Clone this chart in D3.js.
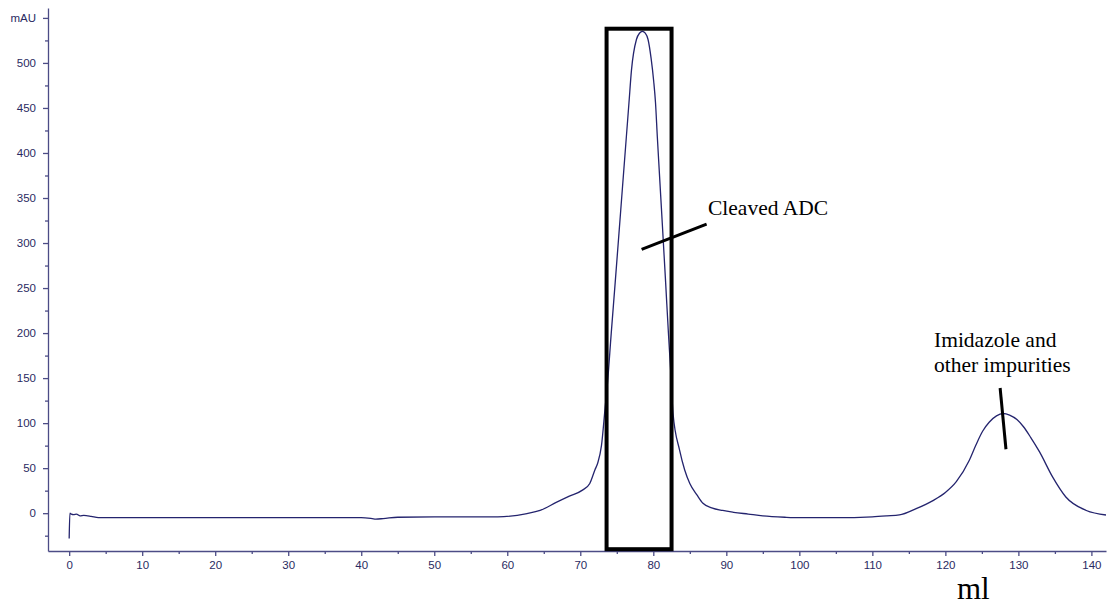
<!DOCTYPE html>
<html>
<head>
<meta charset="utf-8">
<script src="https://cdn.jsdelivr.net/npm/d3@7"></script>
<style>
  body { margin: 0; background: #fff; }
  svg { display: block; }
</style>
</head>
<body>
<svg width="1109" height="605"></svg>
<script>
// DATA (elution volume in ml, absorbance in mAU)
const volume = [0, 0.1, 0.3, 0.6, 1, 1.5, 2, 3, 4, 10, 20, 30, 40, 41.5, 42, 43, 45, 50, 55, 58.7, 62.7,
  64.5, 66.7, 68.5, 70.3, 71.3, 72, 72.4, 72.9, 73.4, 73.72, 74.24, 74.78, 75.3, 75.79, 76.31, 76.67,
  77.01, 77.69, 78.1, 78.51, 78.9, 79.28, 79.7, 80.05, 80.3, 80.55, 80.81, 81.2, 81.69, 82.07, 82.35, 82.7,
  83.6, 84.3, 85, 86, 86.8, 88, 89.5, 91, 93, 95, 98, 100, 105, 110, 112, 113.7, 116,
  118.3, 120, 121.5, 123.3, 124.2, 125.1, 126, 127, 127.86, 128.8, 129.8, 130.7, 131.7, 132.9, 134.7, 136.5, 139.3, 142];
const absorbance = [-28, 0, -1, -1.5, -1, -3, -2.5, -3.5, -5, -5, -5, -5, -5, -6, -6.5, -6, -4.5, -4, -4, -4, -0.5,
  3, 12, 19, 25.6, 33, 48, 56, 75, 117, 144, 200, 256, 311, 363, 418, 456,
  492, 526, 533, 535, 533, 526, 505, 480, 456, 418, 381, 326, 256, 200, 162, 111,
  70, 48, 33, 20, 11, 6, 3, 1, -1, -3, -4.5, -5, -5, -4, -3, -2, 5,
  14, 23, 35, 59, 76, 91, 101, 108, 110.7, 109, 104, 96, 84, 68, 40, 18, 3, -2];

const xTicks = [0, 10, 20, 30, 40, 50, 60, 70, 80, 90, 100, 110, 120, 130, 140];
const yTicks = [0, 50, 100, 150, 200, 250, 300, 350, 400, 450, 500];

// annotations
const boxRange = { x0: 73.6, x1: 82.5, y0: -40, y1: 538 };

const svg = d3.select("svg");

// SCALE
const x = d3.scaleLinear().domain([-2.9, 142]).range([48, 1106]);
const y = d3.scaleLinear().domain([-42, 561]).range([551, 8]);

const axisColor = "#4c4c86";
const labelColor = "#2a2a62";

// AXES
const xAxis = svg.append("g").attr("transform", `translate(0,${y(-42)})`);
xAxis.call(d3.axisBottom(x).tickValues(xTicks).tickSize(5).tickSizeOuter(0).tickFormat(d3.format("d")));
svg.append("g").attr("transform", `translate(0,${y(-42)})`)
  .call(d3.axisBottom(x).tickValues(d3.range(5, 142, 10)).tickSize(3).tickSizeOuter(0).tickFormat(""))
  .select(".domain").remove();

const yAxis = svg.append("g").attr("transform", `translate(${x(-2.9)},0)`);
yAxis.call(d3.axisLeft(y).tickValues(yTicks.concat([550])).tickSize(5).tickSizeOuter(0)
  .tickFormat(d => d === 550 ? "mAU" : d));
svg.append("g").attr("transform", `translate(${x(-2.9)},0)`)
  .call(d3.axisLeft(y).tickValues(d3.range(-25, 560, 50)).tickSize(3).tickSizeOuter(0).tickFormat(""))
  .select(".domain").remove();

svg.selectAll(".domain, .tick line").attr("stroke", axisColor).attr("stroke-width", 1.3);
svg.selectAll(".tick text")
  .attr("fill", labelColor)
  .attr("font-family", "Liberation Sans, Arial, sans-serif")
  .attr("font-size", "11.5px");
xAxis.selectAll(".tick text").attr("dy", "0.9em");
yAxis.selectAll(".tick text").attr("x", -12);

// CURVE
const points = volume.map((v, i) => [v, absorbance[i]]);
svg.append("path")
  .datum(points)
  .attr("fill", "none")
  .attr("stroke", "#24246e")
  .attr("stroke-width", 1.3)
  .attr("d", d3.line().x(d => x(d[0])).y(d => y(d[1])).curve(d3.curveMonotoneX));

// BOX round main peak
svg.append("rect")
  .attr("x", x(boxRange.x0))
  .attr("y", y(boxRange.y1))
  .attr("width", x(boxRange.x1) - x(boxRange.x0))
  .attr("height", y(boxRange.y0) - y(boxRange.y1))
  .attr("fill", "none")
  .attr("stroke", "#000")
  .attr("stroke-width", 4);

// LABELS
const serif = "Liberation Serif, Times New Roman, serif";
svg.append("line")
  .attr("x1", x(78.4)).attr("y1", y(293))
  .attr("x2", x(87.3)).attr("y2", y(321))
  .attr("stroke", "#000").attr("stroke-width", 3);
svg.append("text")
  .attr("x", 708).attr("y", 215)
  .attr("font-family", serif).attr("font-size", "21.5px")
  .text("Cleaved ADC");

svg.append("line")
  .attr("x1", x(127.5)).attr("y1", y(139))
  .attr("x2", x(128.3)).attr("y2", y(71))
  .attr("stroke", "#000").attr("stroke-width", 3);
svg.append("text")
  .attr("x", 934).attr("y", 347)
  .attr("font-family", serif).attr("font-size", "21.5px")
  .text("Imidazole and");
svg.append("text")
  .attr("x", 934).attr("y", 372)
  .attr("font-family", serif).attr("font-size", "21.5px")
  .text("other impurities");

svg.append("text")
  .attr("x", 957).attr("y", 599)
  .attr("font-family", serif).attr("font-size", "31px")
  .text("ml");
</script>
</body>
</html>
